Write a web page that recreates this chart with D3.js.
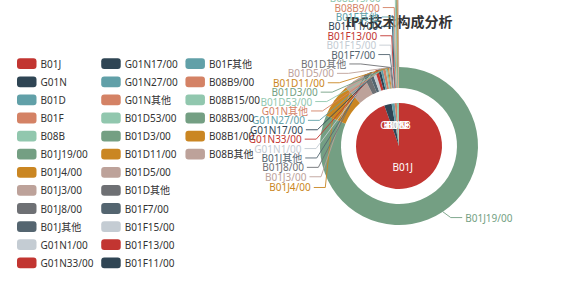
<!DOCTYPE html>
<html>
<head>
<meta charset="utf-8">
<script src="https://cdn.jsdelivr.net/npm/d3@7/dist/d3.min.js"></script>
<style>
  html, body { margin: 0; padding: 0; background: #fff; }
  svg { display: block; font-family: "Noto Sans", "Noto Sans CJK SC", sans-serif; }
</style>
</head>
<body>
<svg id="chart" width="569" height="284"></svg>
<script>
// 一级分类（内圈）
var mainNames = ["B01J", "G01N", "B01D", "B01F", "B08B"];
var mainValues = [3402, 101, 41, 29, 29];

// 二级分类（外圈），按一级分类顺序排列
var subNames = [
  "B01J19/00", "B01J4/00", "B01J3/00", "B01J8/00", "B01J其他",
  "G01N1/00", "G01N33/00", "G01N17/00", "G01N27/00", "G01N其他",
  "B01D53/00", "B01D3/00", "B01D11/00", "B01D5/00", "B01D其他",
  "B01F7/00", "B01F15/00", "B01F13/00", "B01F11/00", "B01F其他",
  "B08B9/00", "B08B15/00", "B08B3/00", "B08B1/00", "B08B其他"
];
var subValues = [
  2928, 252, 152, 44, 26,
  24, 22, 19, 16, 20,
  10, 8, 8, 8, 7,
  7, 6, 6, 5, 5,
  8, 6, 6, 5, 4
];

var palette = ["#c23531", "#2f4554", "#61a0a8", "#d48265", "#91c7ae", "#749f83",
               "#ca8622", "#bda29a", "#6e7074", "#546570", "#c4ccd3"];

var title = "IPC技术构成分析";

var svg = d3.select("#chart");
var cx = 399, cy = 146;
var rPie = 43, rRing0 = 58, rRing1 = 79;
var len1 = 7, len2 = 11.5, lineH = 9.4;

var mainData = mainNames.map(function(n, i) {
  return {name: n, value: mainValues[i], color: palette[i % palette.length]};
});
var subData = subNames.map(function(n, i) {
  return {name: n, value: subValues[i], color: palette[(i + mainNames.length) % palette.length]};
});

var pie = d3.pie().sort(null).value(function(d) { return d.value; });
var innerArcs = pie(mainData);
var outerArcs = pie(subData);

var arcInner = d3.arc().innerRadius(0).outerRadius(rPie);
var arcOuter = d3.arc().innerRadius(rRing0).outerRadius(rRing1);

// 标题
svg.append("text")
  .attr("x", cx)
  .attr("y", 21)
  .attr("text-anchor", "middle")
  .attr("dominant-baseline", "central")
  .style("font-size", "14px")
  .style("font-weight", "bold")
  .attr("fill", "#333")
  .text(title);

var g = svg.append("g").attr("transform", "translate(" + cx + "," + cy + ")");

g.selectAll("path.inner")
  .data(innerArcs)
  .join("path")
  .attr("class", "inner")
  .attr("d", arcInner)
  .attr("fill", function(d) { return d.data.color; });

g.selectAll("path.outer")
  .data(outerArcs)
  .join("path")
  .attr("class", "outer")
  .attr("d", arcOuter)
  .attr("fill", function(d) { return d.data.color; });

// 内圈标签
g.selectAll("text.inner")
  .data(innerArcs)
  .join("text")
  .attr("class", "inner")
  .attr("transform", function(d) { return "translate(" + arcInner.centroid(d) + ")"; })
  .attr("text-anchor", "middle")
  .attr("dominant-baseline", "central")
  .attr("fill", "#fff")
  .style("font-size", "10px")
  .text(function(d) { return d.data.name; });

// 外圈标签布局（仿 echarts 的避让方式）
var labels = outerArcs.map(function(d) {
  var mid = (d.startAngle + d.endAngle) / 2;
  var dx = Math.sin(mid), dy = -Math.cos(mid);
  var left = dx < 0;
  var x1 = cx + rRing1 * dx, y1 = cy + rRing1 * dy;
  var x2 = cx + (rRing1 + len1) * dx, y2 = cy + (rRing1 + len1) * dy;
  var x3 = x2 + (left ? -len2 : len2);
  return {
    d: d, left: left, x: x3 + (left ? -4 : 4), y: y2, h: lineH,
    pts: [[x1, y1], [x2, y2], [x3, y2]]
  };
});

function adjustSide(list, dir) {
  list.sort(function(a, b) { return a.y - b.y; });
  function shiftUp(end, delta) {
    for (var j = end; j >= 0; j--) {
      list[j].y -= delta;
      if (j > 0 && list[j].y > list[j - 1].y + list[j - 1].h) break;
    }
  }
  function shiftDown(start, end, delta) {
    for (var j = start; j < end; j++) {
      list[j].y += delta;
      if (j > start && j + 1 < end && list[j + 1].y > list[j].y + list[j].h) {
        shiftUp(j, delta / 2);
        return;
      }
    }
    shiftUp(end - 1, delta / 2);
  }
  var lastY = 0;
  for (var i = 0; i < list.length; i++) {
    var delta = list[i].y - lastY;
    if (delta < 0) shiftDown(i, list.length, -delta);
    lastY = list[i].y + list[i].h;
  }
  function changeX(sub, isDown) {
    var lastDX = isDown ? Number.MAX_VALUE : 0;
    sub.forEach(function(l) {
      var ddy = Math.abs(l.y - cy);
      var R = rRing1 + len1 + len2;
      var ddx = ddy < rRing1 + len1 ? Math.sqrt(R * R - ddy * ddy) : Math.abs(l.x - cx);
      if (isDown && ddx >= lastDX) ddx = lastDX - 10;
      if (!isDown && ddx <= lastDX) ddx = lastDX + 10;
      l.x = cx + ddx * dir;
      lastDX = ddx;
    });
  }
  changeX(list.filter(function(l) { return l.y < cy; }), false);
  changeX(list.filter(function(l) { return l.y >= cy; }), true);
  list.forEach(function(l) {
    var dist = l.pts[1][0] - l.pts[2][0];
    l.pts[2][0] = l.x + (dir < 0 ? 3 : -3);
    l.pts[1][1] = l.pts[2][1] = l.y;
    l.pts[1][0] = l.pts[2][0] + dist;
  });
}

adjustSide(labels.filter(function(l) { return l.left; }), -1);
adjustSide(labels.filter(function(l) { return !l.left; }), 1);

var lineGen = d3.line();
svg.append("g").selectAll("path")
  .data(labels)
  .join("path")
  .attr("d", function(l) { return lineGen(l.pts); })
  .attr("fill", "none")
  .attr("stroke", function(l) { return l.d.data.color; })
  .attr("stroke-width", 0.9);

svg.append("g").selectAll("text")
  .data(labels)
  .join("text")
  .attr("x", function(l) { return l.x; })
  .attr("y", function(l) { return l.y; })
  .attr("text-anchor", function(l) { return l.left ? "end" : "start"; })
  .attr("dominant-baseline", "central")
  .attr("fill", function(l) { return l.d.data.color; })
  .style("font-size", "10px")
  .text(function(l) { return l.d.data.name; });

// 图例：纵向排列，超出高度换列
var legendItems = mainData.concat(subData);
var perCol = 12, rowStep = 18.1, iconW = 19.5, iconH = 10.8, legendX = 17, legendY = 63.7;
var legend = svg.append("g");
var colX = legendX;
for (var c = 0; c * perCol < legendItems.length; c++) {
  var items = legendItems.slice(c * perCol, (c + 1) * perCol);
  var col = legend.append("g").attr("transform", "translate(" + colX + ",0)");
  var rows = col.selectAll("g").data(items).join("g")
    .attr("transform", function(d, i) { return "translate(0," + (legendY + i * rowStep) + ")"; });
  rows.append("rect")
    .attr("x", 0).attr("y", -iconH / 2)
    .attr("width", iconW).attr("height", iconH)
    .attr("rx", 3).attr("ry", 3)
    .attr("fill", function(d) { return d.color; });
  var texts = rows.append("text")
    .attr("x", iconW + 4)
    .attr("y", 0)
    .attr("dominant-baseline", "central")
    .attr("fill", "#333")
    .style("font-size", "10px")
    .text(function(d) { return d.name; });
  var maxW = d3.max(texts.nodes(), function(n) { return n.getComputedTextLength(); });
  colX += iconW + 4 + maxW + 7.8;
}
</script>
</body>
</html>
